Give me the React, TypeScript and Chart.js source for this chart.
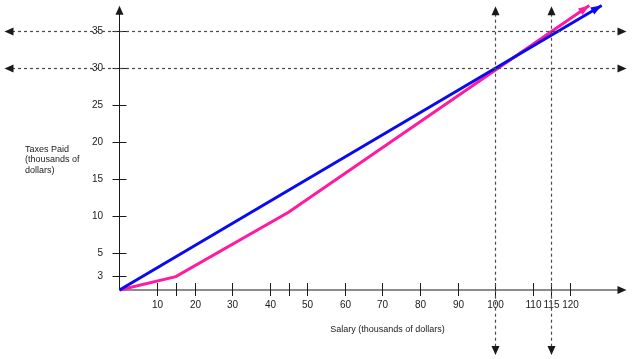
import { useEffect, useRef } from 'react';
import { Chart, registerables } from 'chart.js';

Chart.register(...registerables);

// Data (thousands of dollars)
const blueSalary = [0, 128.4];
const blueTax = [0, 38.4];
const pinkSalary = [0, 15, 45, 125.1];
const pinkTax = [0, 1.8, 10.5, 38.4];

const xTickValues = [10, 15, 20, 30, 40, 45, 50, 60, 70, 80, 90, 100, 110, 115, 120];
const xTickLabels = ['10', '', '20', '30', '40', '', '50', '60', '70', '80', '90', '100', '110', '115', '120'];
const yTickValues = [1.9, 5, 10, 15, 20, 25, 30, 35];
const yTickLabels = ['3', '5', '10', '15', '20', '25', '30', '35'];

const refSalaries = [100, 115];
const refTaxes = [30, 35];

const xTitle = 'Salary (thousands of dollars)';
const yTitle = ['Taxes Paid', '(thousands of', 'dollars)'];

const BLUE = '#0a0af0';
const PINK = '#ff1aa0';
const INK = '#1a1a1a';
const DASH = '#4a4a4a';
const TICK_FONT = "10px 'Liberation Sans', Arial, sans-serif";
const TITLE_FONT = "9px 'Liberation Sans', Arial, sans-serif";

function arrow(ctx: CanvasRenderingContext2D, tx: number, ty: number, angle: number, len: number, half: number, color: string) {
  ctx.save();
  ctx.translate(tx, ty);
  ctx.rotate(angle);
  ctx.beginPath();
  ctx.moveTo(0, 0);
  ctx.lineTo(-len, -half);
  ctx.lineTo(-len, half);
  ctx.closePath();
  ctx.fillStyle = color;
  ctx.fill();
  ctx.restore();
}

const axesPlugin = {
  id: 'customAxes',
  beforeDatasetsDraw(chart: any) {
    const ctx: CanvasRenderingContext2D = chart.ctx;
    const xs = chart.scales.x;
    const ys = chart.scales.y;
    const ca = chart.chartArea;
    const x0 = xs.getPixelForValue(0);
    const y0 = ys.getPixelForValue(0);
    ctx.save();
    ctx.strokeStyle = INK;
    ctx.lineWidth = 1;
    // x axis
    ctx.beginPath();
    ctx.moveTo(x0, y0);
    ctx.lineTo(ca.right - 6, y0);
    ctx.stroke();
    arrow(ctx, ca.right, y0, 0, 9, 4, INK);
    // y axis
    ctx.beginPath();
    ctx.moveTo(x0, y0);
    ctx.lineTo(x0, ca.top + 6);
    ctx.stroke();
    arrow(ctx, x0, ca.top + 1, -Math.PI / 2, 9, 4, INK);

    ctx.font = TICK_FONT;
    ctx.fillStyle = INK;
    // x ticks
    xTickValues.forEach((v, i) => {
      const px = Math.round(xs.getPixelForValue(v)) + 0.5;
      ctx.beginPath();
      ctx.moveTo(px, y0 - 7);
      ctx.lineTo(px, y0 + 6);
      ctx.stroke();
      if (xTickLabels[i]) {
        ctx.textAlign = 'center';
        ctx.textBaseline = 'middle';
        ctx.fillText(xTickLabels[i], px, y0 + 15.5);
      }
    });
    // y ticks
    yTickValues.forEach((v, i) => {
      const py = Math.round(ys.getPixelForValue(v)) + 0.5;
      ctx.beginPath();
      ctx.moveTo(x0 - 7, py);
      ctx.lineTo(x0 + 7, py);
      ctx.stroke();
      ctx.textAlign = 'right';
      ctx.textBaseline = 'middle';
      ctx.fillText(yTickLabels[i], x0 - 16.5, py);
    });
    // titles
    ctx.font = TITLE_FONT;
    ctx.textAlign = 'center';
    ctx.textBaseline = 'middle';
    ctx.fillText(xTitle, 387.5, y0 + 39.5);
    ctx.textAlign = 'left';
    yTitle.forEach((t, i) => {
      ctx.fillText(t, 25, 149.5 + i * 10.5);
    });
    ctx.restore();
  },
  afterDatasetsDraw(chart: any) {
    const ctx: CanvasRenderingContext2D = chart.ctx;
    const xs = chart.scales.x;
    const ys = chart.scales.y;
    const ca = chart.chartArea;
    // arrowheads at the ends of the series
    chart.data.datasets.forEach((ds: any, di: number) => {
      const meta = chart.getDatasetMeta(di);
      const pts = meta.data;
      const a = pts[pts.length - 2];
      const b = pts[pts.length - 1];
      const ang = Math.atan2(b.y - a.y, b.x - a.x);
      arrow(ctx, b.x, b.y, ang, 11, 4, ds.borderColor);
    });
    // dashed reference lines
    ctx.save();
    ctx.strokeStyle = DASH;
    ctx.lineWidth = 1.2;
    ctx.setLineDash([3, 3]);
    refTaxes.forEach((v) => {
      const py = Math.round(ys.getPixelForValue(v)) + 0.5;
      ctx.beginPath();
      ctx.moveTo(12, py);
      ctx.lineTo(ca.right - 8, py);
      ctx.stroke();
      arrow(ctx, 4.5, py, Math.PI, 9, 4, INK);
      arrow(ctx, ca.right, py, 0, 9, 4, INK);
    });
    refSalaries.forEach((v) => {
      const px = Math.round(xs.getPixelForValue(v)) + 0.5;
      ctx.beginPath();
      ctx.moveTo(px, ca.top + 9);
      ctx.lineTo(px, 347);
      ctx.stroke();
      arrow(ctx, px, ca.top + 1.5, -Math.PI / 2, 9, 4, INK);
      arrow(ctx, px, 355, Math.PI / 2, 9, 4, INK);
    });
    ctx.restore();
  },
};

export default function App() {
  const ref = useRef<HTMLCanvasElement | null>(null);
  useEffect(() => {
    if (!ref.current) return;
    const chart = new Chart(ref.current, {
      type: 'line',
      data: {
        datasets: [
          {
            label: 'Blue',
            data: blueSalary.map((x, i) => ({ x, y: blueTax[i] })),
            borderColor: BLUE,
            borderWidth: 3,
            pointRadius: 0,
            tension: 0,
            clip: false as any,
          },
          {
            label: 'Pink',
            data: pinkSalary.map((x, i) => ({ x, y: pinkTax[i] })),
            borderColor: PINK,
            borderWidth: 3,
            pointRadius: 0,
            tension: 0,
            clip: false as any,
          },
        ],
      },
      options: {
        animation: false,
        responsive: false,
        maintainAspectRatio: false,
        devicePixelRatio: 1,
        layout: { padding: { left: 119.5, right: 7.5, top: 4.7, bottom: 69 } },
        scales: {
          x: { type: 'linear', min: 0, max: 135, display: false },
          y: { type: 'linear', min: 0, max: 38.5, display: false },
        },
        plugins: { legend: { display: false }, tooltip: { enabled: false } },
      },
      plugins: [axesPlugin],
    });
    return () => chart.destroy();
  }, []);
  return (
    <div style={{ position: 'fixed', left: 0, top: 0, width: 634, height: 359, background: '#fff' }}>
      <canvas ref={ref} width={634} height={359} style={{ display: 'block' }} />
    </div>
  );
}
